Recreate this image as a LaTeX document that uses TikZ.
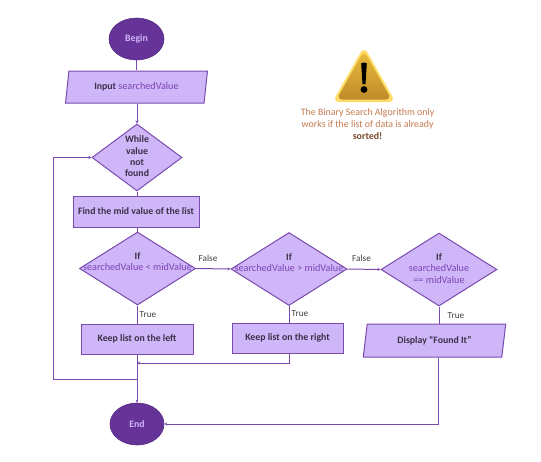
\documentclass[tikz,border=0pt]{standalone}
\usepackage{fontspec}
\setmainfont{Carlito}
\usetikzlibrary{shapes.geometric,arrows.meta}
\definecolor{lav}{HTML}{CFB6F8}
\definecolor{edgeP}{HTML}{7A4BAF}
\definecolor{deepP}{HTML}{663399}
\definecolor{txtP}{HTML}{7A45B5}
\definecolor{txtD}{HTML}{3A3048}
\definecolor{warnT}{HTML}{C47A4E}
\definecolor{warnD}{HTML}{7A4A30}
\definecolor{goldO}{HTML}{FFDD66}
\definecolor{goldT}{HTML}{EBBE3C}
\definecolor{goldB}{HTML}{BE8A2A}
\newcommand{\sv}[1]{{\color{txtP}\mdseries\fontsize{10.2}{12}\selectfont #1}}
\newcommand{\dtxt}[1]{\smash{\makebox[0pt]{\raisebox{-2.6pt}{\renewcommand{\arraystretch}{0.98}\begin{tabular}{@{}c@{}}#1\end{tabular}}}}}
\tikzset{
  base/.style={draw=edgeP,line width=1pt,fill=lav,text=txtD,font=\fontsize{9.8}{11.6}\selectfont\bfseries,inner sep=0pt},
  boxN/.style={base,rectangle,minimum width=#1},
  dia/.style={base,diamond,minimum width=116,minimum height=73},
  para/.style={base,trapezium,trapezium stretches=true,trapezium left angle=76,trapezium right angle=104},
  term/.style={ellipse,fill=deepP,draw=deepP!85!black,line width=.6pt,minimum width=55,minimum height=42,inner sep=0pt,text=lav,font=\fontsize{9.8}{11.6}\selectfont\bfseries},
  link/.style={draw=edgeP,line width=1pt},
  arr/.style={link,-{Stealth[length=3pt,width=3pt]}},
  tag/.style={text=black!75,font=\fontsize{9.2}{10}\selectfont,inner sep=0pt},
  warn/.style={text=warnT,font=\fontsize{9.9}{12}\selectfont,align=center,inner sep=0pt}
}
\begin{document}
\begin{tikzpicture}[x=1pt,y=-1pt]
\useasboundingbox[fill=white] (0,0) rectangle (541,461);
% nodes
\node[term] (begin) at (136.5,39) {Begin};
\node[para,minimum width=143,minimum height=32] (input) at (136.5,87) {Input \sv{searchedValue}};
\node[dia,minimum width=90,minimum height=67] (while) at (137,157.5) {\dtxt{While\\value\\not\\found}};
\node[boxN=126,minimum height=31] (find) at (136,211.5) {Find the mid value of the list};
\node[dia] (ifa) at (137.5,268.5) {\dtxt{If\\\sv{searchedValue < midValue}\\\mbox{}}};
\node[dia] (ifb) at (289,269) {\dtxt{If\\\sv{searchedValue > midValue}\\\mbox{}}};
\node[dia] (ifc) at (439,269.5) {\dtxt{If\\\sv{searchedValue}\\\sv{== midValue}}};
\node[boxN=112,minimum height=30] (left) at (137,339) {Keep list on the left};
\node[boxN=111,minimum height=30] (right) at (287.5,338) {Keep list on the right};
\node[para,minimum width=143,minimum height=33] (show) at (434.5,340.5) {Display “Found It”};
\node[term,minimum width=54] (end) at (137,424) {End};
\coordinate (loopa) at (137,379);
\coordinate (loopb) at (53.7,379);
\coordinate (loopc) at (53.7,157.5);
\coordinate (merge) at (137,363);
\coordinate (rmerge) at (289,363);
\coordinate (showout) at (438.5,424);
% connectors
\draw[link] (begin.south) -- (input.north -| begin.south);
\draw[arr] (input.south -| while.north) -- (while.north);
\draw[link] (while.south) -- (find.north -| while.south);
\draw[link] (find.south -| ifa.north) -- (ifa.north);
\draw[link] (ifa.south) -- (left.north -| ifa.south);
\draw[arr] (left.south) -- (end.north);
\draw[arr] (loopa) -- (loopb) -- (loopc) -- (while.west);
\draw[arr] (ifa.east) -- (ifb.west);
\draw[arr] (ifb.east) -- (ifc.west);
\draw[link] (ifb.south) -- (right.north -| ifb.south);
\draw[arr] (right.south -| rmerge) -- (rmerge) -- (merge);
\draw[link] (ifc.south) -- (show.north -| ifc.south);
\draw[arr] (show.south -| showout) -- (showout) -- (end.east);
% labels
\node[tag] (fa) at (208,258) {False};
\node[tag] (ta) at (148,315) {True};
\node[tag] (fb) at (361.5,258) {False};
\node[tag] (tb) at (300,314) {True};
\node[tag] (tc) at (456,316) {True};
% warning icon
\fill[rounded corners=7pt,fill=goldO] (364,46.5) -- (395.5,102) -- (332.5,102) -- cycle;
\shade[rounded corners=6pt,top color=goldT,bottom color=goldB] (364,50.5) -- (391.5,99.5) -- (336.5,99.5) -- cycle;
\fill[black] (361.2,63.5) .. controls (362,62.3) and (366,62.3) .. (366.8,63.5) -- (365.5,84) -- (362.5,84) -- cycle;
\fill[black] (364,89.5) circle (3.4);
\node[warn] (note) at (367.6,124) {The Binary Search Algorithm only\\works if the list of data is already\\{\color{warnD}\textbf{sorted!}}};
\end{tikzpicture}
\end{document}
